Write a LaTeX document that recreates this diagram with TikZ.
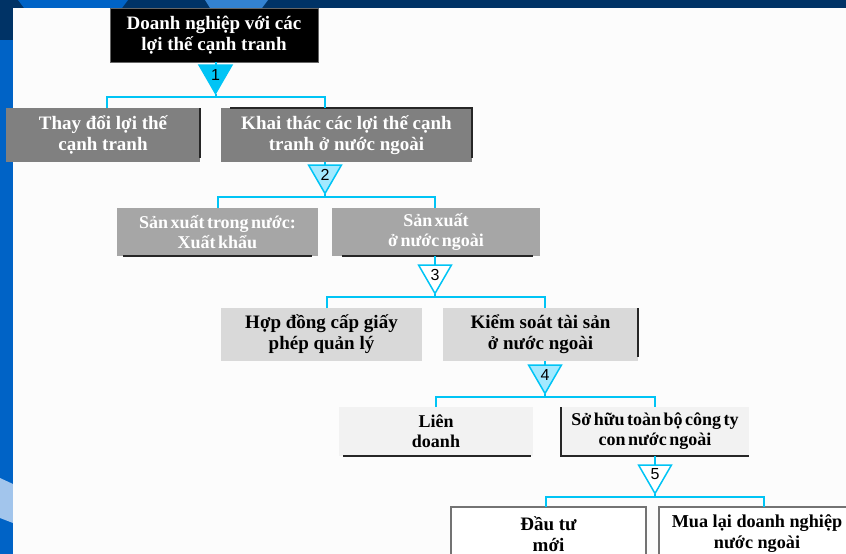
\documentclass[tikz,border=0pt]{standalone}
\usepackage{fontspec}
\setmainfont{Liberation Serif}
\newfontfamily\numfont{Liberation Sans}
\newfontfamily\tightserif[WordSpace=0.55]{Liberation Serif}
\usepackage{tikz}
\usetikzlibrary{shapes.geometric,calc}
\definecolor{skyline}{HTML}{00C4F5}
\definecolor{skylight}{HTML}{A3E9FF}
\definecolor{navy}{HTML}{003366}
\definecolor{slideblue}{HTML}{0063C6}
\definecolor{paleblue}{HTML}{A2C5EC}

\begin{document}
\begin{tikzpicture}[x=1pt,y=-1pt,
  box/.style={rectangle,inner sep=0pt,outer sep=0pt,align=center,
    font=\bfseries\fontsize{19}{21}\selectfont},
  smallbox/.style={box,font=\tightserif\bfseries\fontsize{18}{20}\selectfont},
  tri/.style={regular polygon,regular polygon sides=3,shape border rotate=180,
    minimum size=38pt,inner sep=0pt,outer sep=0pt,draw=skyline,line width=1.5pt,
    font=\numfont\fontsize{16}{16}\selectfont},
  bar/.style={skyline,line width=2pt},
  shade/.style={black!85,line width=1.6pt}]
  \clip (0,0) rectangle (846,554);
  \fill[slideblue] (0,0) rectangle (846,554);
  \fill[navy] (0,0) rectangle (846,8);
  \fill[slideblue] (18,0) -- (128,0) -- (122,8) -- (24,8) -- cycle;
  \fill[slideblue!80!white] (205,0) -- (268,0) -- (262,8) -- (210,8) -- cycle;
  \fill[navy] (0,0) rectangle (13,40);
  \fill[paleblue] (0,478) -- (13,484) -- (13,523) -- (0,518) -- cycle;
  \fill[white!99!black] (13,8) rectangle (846,554);

  \node[box,fill=black,draw=black!60,text=white,minimum width=208pt,minimum height=54pt]
    (top) at (214,35) {Doanh nghiệp với các\\lợi thế cạnh tranh};
  \node[tri,fill=skyline] (t1) at (215.5,74.5) {\raisebox{-1.5pt}{1}};

  \node[box,fill=black!50,text=white,minimum width=194pt,minimum height=54pt]
    (c1) at (103,135) {Thay đổi lợi thế\\cạnh tranh};
  \node[box,fill=black!50,text=white,minimum width=251pt,minimum height=54pt]
    (k1) at (346.5,135) {Khai thác các lợi thế cạnh\\tranh ở nước ngoài};
  \node[tri,fill=skylight] (t2) at (325,174.5) {\raisebox{-1.5pt}{2}};

  \node[smallbox,fill=black!35,text=white,minimum width=201pt,minimum height=48pt]
    (s1) at (217.5,232) {Sản xuất trong nước:\\Xuất khẩu};
  \node[smallbox,fill=black!35,text=white,minimum width=208pt,minimum height=48pt]
    (s2) at (436,232) {Sản xuất\\ở nước ngoài};
  \node[tri,fill=white] (t3) at (435,274.5) {\raisebox{-1.5pt}{3}};

  \node[box,fill=black!15,minimum width=201pt,minimum height=53pt]
    (h1) at (321.5,334.5) {Hợp đồng cấp giấy\\phép quản lý};
  \node[box,fill=black!15,minimum width=195pt,minimum height=53pt]
    (h2) at (540.5,334.5) {Kiểm soát tài sản\\ở nước ngoài};
  \node[tri,fill=skylight] (t4) at (545,374.5) {\raisebox{-1.5pt}{4}};

  \node[smallbox,fill=black!5,minimum width=194pt,minimum height=49pt]
    (l1) at (436,431.5) {Liên\\doanh};
  \node[smallbox,fill=black!5,minimum width=188pt,minimum height=49pt]
    (l2) at (655,431.5) {Sở hữu toàn bộ công ty\\con nước ngoài};
  \node[tri,fill=white] (t5) at (655,474.5) {\raisebox{-1.5pt}{5}};

  \node[box,fill=white,draw=black!55,line width=1.5pt,minimum width=195pt,minimum height=54pt]
    (d1) at (548.5,534) {Đầu tư\\mới};
  \node[box,fill=white,draw=black!55,line width=1.5pt,minimum width=196pt,minimum height=54pt,
    font=\bfseries\fontsize{18.2}{21}\selectfont]
    (d2) at (757,534) {Mua lại doanh nghiệp\\nước ngoài};

  \draw[shade] (c1.north east) -- ([yshift=4pt]c1.south east);
  \draw[shade] ([xshift=9pt]k1.north west) -- (k1.north east) -- ([yshift=4pt]k1.south east);
  \draw[shade] ([xshift=6pt]s1.south west) -- ([xshift=-6pt]s1.south east);
  \draw[shade] ([xshift=10pt]s2.south west) -- ([xshift=-7pt]s2.south east);
  \draw[shade] (h2.north east) -- ([yshift=4pt]h2.south east);
  \draw[shade] ([xshift=4pt]l1.south west) -- ([xshift=-2pt]l1.south east);
  \draw[shade] (l2.north west) -- (l2.south west) -- (l2.south east);

  \coordinate (b1) at ([yshift=-3pt]t1.south);
  \coordinate (b2) at ([yshift=-3pt]t2.south);
  \coordinate (b3) at ([yshift=-3pt]t3.south);
  \coordinate (b4) at ([yshift=-3pt]t4.south);
  \coordinate (b5) at ([yshift=-3pt]t5.south);

  \draw[bar] (t1.north |- top.south) -- (t1.north);
  \draw[bar] (t1.south) -- (b1);
  \draw[bar] ([xshift=4pt]c1.north) |- (b1) -| (t2.north |- k1.north);
  \draw[bar] (t2.north |- k1.south) -- (t2.north);
  \draw[bar] (t2.south) -- (b2);
  \draw[bar] (s1.north) |- (b2) -| (t3.north |- s2.north);
  \draw[bar] (t3.north |- s2.south) -- (t3.north);
  \draw[bar] (t3.south) -- (b3);
  \draw[bar] ([xshift=5pt]h1.north) |- (b3) -| (t4.north |- h2.north);
  \draw[bar] (t4.north |- h2.south) -- (t4.north);
  \draw[bar] (t4.south) -- (b4);
  \draw[bar] (l1.north) |- (b4) -| (t5.north |- l2.north);
  \draw[bar] (t5.north |- l2.south) -- (t5.north);
  \draw[bar] (t5.south) -- (b5);
  \draw[bar] ([xshift=-3pt]d1.north) |- (b5) -| ([xshift=7pt]d2.north);
\end{tikzpicture}
\end{document}
